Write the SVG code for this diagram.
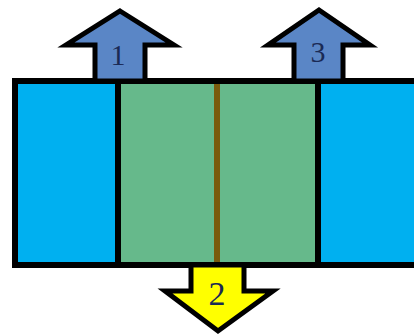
<svg xmlns="http://www.w3.org/2000/svg" width="414" height="336" viewBox="0 0 414 336">
  <style>
    .edge { stroke: #000; stroke-width: 6; }
    .arrow { stroke: #000; stroke-width: 5; stroke-linejoin: miter; }
    .num { font-family: "Liberation Serif", "DejaVu Serif", serif; fill: #1a2a55; text-anchor: middle; }
  </style>
  <rect width="414" height="336" fill="#fff"/>

  <!-- main block: two outer cyan cells and a green centre split by a brown line -->
  <g id="block">
    <rect x="15" y="81" width="410" height="184" fill="#00b0f0" class="edge"/>
    <rect x="118" y="81" width="200" height="184" fill="#66b98b" class="edge"/>
    <line x1="217" y1="84" x2="217" y2="262" stroke="#7a5a0c" stroke-width="6"/>
  </g>

  <!-- flow arrows -->
  <g id="connectors">
    <g id="arrow1">
      <polygon class="arrow" fill="#5a86c6" points="120,11 174,45 145,45 145,81 95,81 95,45 66,45"/>
      <text class="num" x="118" y="65" font-size="30">1</text>
    </g>
    <g id="arrow3">
      <polygon class="arrow" fill="#5a86c6" points="319,10 370,45 343,45 343,81 294,81 294,45 268,45"/>
      <text class="num" x="318" y="62" font-size="30">3</text>
    </g>
    <g id="arrow2">
      <polygon class="arrow" fill="#ffff00" points="191,265 244,265 244,291 273,291 218,331 165,291 191,291"/>
      <text class="num" x="217" y="305" font-size="34">2</text>
    </g>
  </g>
</svg>
